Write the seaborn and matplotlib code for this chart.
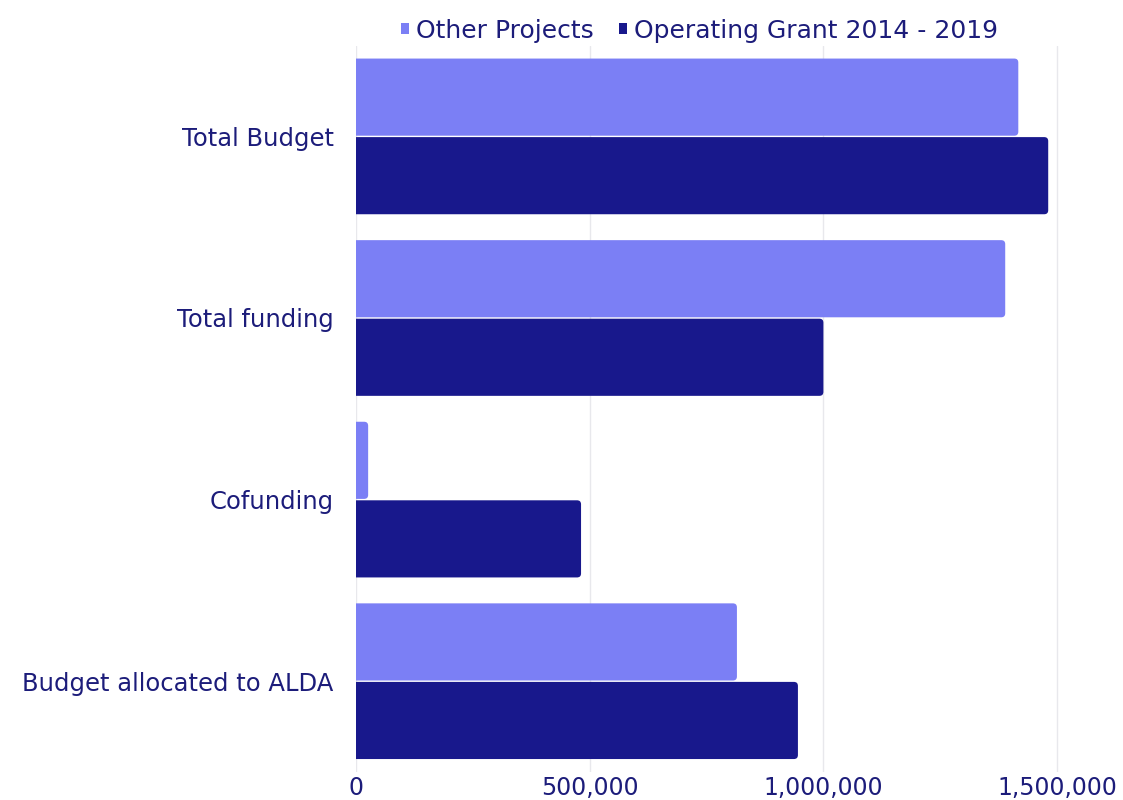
import matplotlib
matplotlib.use("Agg")
import matplotlib.pyplot as plt
import seaborn as sns
import pandas as pd
from matplotlib.patches import FancyBboxPatch, Patch
from matplotlib.ticker import FuncFormatter

categories = ["Total Budget", "Total funding", "Cofunding", "Budget allocated to ALDA"]
series_names = ["Other Projects", "Operating Grant 2014 - 2019"]
other_projects = [1417000, 1389000, 26000, 815000]
operating_grant = [1481000, 1000000, 481500, 945500]
x_ticks = [0, 500000, 1000000, 1500000]

df = pd.DataFrame({
    "category": categories * 2,
    "series": [series_names[0]] * len(categories) + [series_names[1]] * len(categories),
    "value": other_projects + operating_grant,
})

sns.set_theme(style="white")
plt.rcParams["font.family"] = ["DejaVu Sans"]

text_color = "#1c1c7a"
colors = ["#7b7ff5", "#18188c"]
palette = dict(zip(series_names, colors))

fig = plt.figure(figsize=(11.23, 8), dpi=100)
ax = fig.add_axes([0.317, 0.035, 0.683, 0.908])

sns.barplot(data=df, y="category", x="value", hue="series", orient="h",
            palette=palette, width=0.865, ax=ax, saturation=1,
            hue_order=series_names, order=categories, legend=False)

xmax = 1641000
ax.set_xlim(0, xmax)
ax.set_ylim(len(categories) - 0.5, -0.5)

# Swap the plain rectangles for rounded ones (corner radius ~4 px)
fig.canvas.draw()
bbox = ax.get_window_extent()
x_per_px = xmax / bbox.width
y_per_px = len(categories) / bbox.height
radius = 4 * x_per_px
aspect = y_per_px / x_per_px
gap = 0.7 * y_per_px
for p in list(ax.patches):
    x, y, w, h = p.get_x(), p.get_y(), p.get_width(), p.get_height()
    fc = p.get_facecolor()
    p.remove()
    ax.add_patch(FancyBboxPatch(
        (x - radius, y + gap), w + radius, h - 2 * gap,
        boxstyle=f"round,pad=0,rounding_size={radius}",
        mutation_aspect=aspect, facecolor=fc, edgecolor="none", zorder=2))

ax.set_xticks(x_ticks)
ax.xaxis.set_major_formatter(FuncFormatter(lambda v, _: f"{int(v):,}"))
ax.grid(axis="x", color="#e8e8ec", linewidth=1)
ax.set_axisbelow(True)
for s in ax.spines.values():
    s.set_visible(False)
ax.set_xlabel("")
ax.set_ylabel("")
ax.tick_params(axis="x", colors=text_color, labelsize=17, length=0, pad=3)
ax.tick_params(axis="y", colors=text_color, labelsize=17.5, length=0, pad=16)

handles = [Patch(facecolor=c, edgecolor="none") for c in colors]
fig.legend(handles, series_names, loc="upper center", bbox_to_anchor=(0.623, 1.005),
           ncol=2, frameon=False, fontsize=18, handlelength=0.3, handleheight=0.3,
           handletextpad=0.3, columnspacing=1.0, labelcolor=text_color)

fig.savefig("out.png", dpi=100, facecolor="white")
